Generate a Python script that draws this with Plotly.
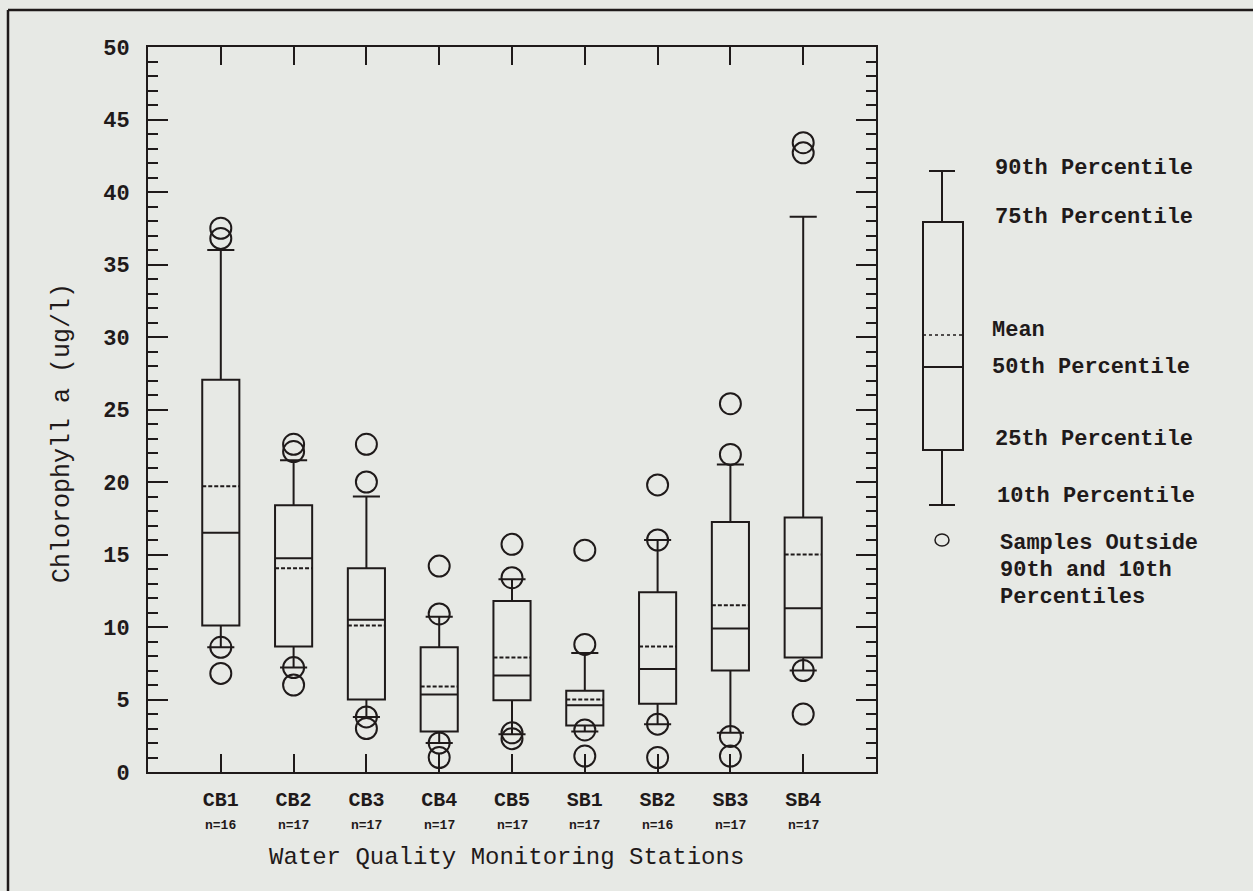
import plotly.graph_objects as go

# Chlorophyll a summary statistics per monitoring station (ug/l)
stations = ["CB1", "CB2", "CB3", "CB4", "CB5", "SB1", "SB2", "SB3", "SB4"]
sample_n = [16, 17, 17, 17, 17, 17, 16, 17, 17]
p10 = [8.6, 7.2, 3.8, 2.0, 2.6, 2.8, 3.3, 2.7, 7.0]
p25 = [10.1, 8.65, 5.0, 2.8, 4.95, 3.2, 4.7, 7.0, 7.9]
p50 = [16.5, 14.75, 10.5, 5.35, 6.65, 4.6, 7.1, 9.9, 11.3]
means = [19.7, 14.05, 10.1, 5.9, 7.9, 5.0, 8.65, 11.5, 15.0]
p75 = [27.05, 18.4, 14.05, 8.6, 11.8, 5.6, 12.4, 17.25, 17.55]
p90 = [36.0, 21.5, 19.0, 10.7, 13.3, 8.2, 16.0, 21.2, 38.3]

# Samples falling outside the 10th-90th percentile range
outlier_station = ["CB1", "CB1", "CB1", "CB1",
                   "CB2", "CB2", "CB2", "CB2",
                   "CB3", "CB3", "CB3", "CB3",
                   "CB4", "CB4", "CB4", "CB4",
                   "CB5", "CB5", "CB5", "CB5",
                   "SB1", "SB1", "SB1", "SB1",
                   "SB2", "SB2", "SB2", "SB2",
                   "SB3", "SB3", "SB3", "SB3",
                   "SB4", "SB4", "SB4", "SB4"]
outlier_value = [37.5, 36.8, 8.6, 6.8,
                 22.6, 22.1, 7.2, 6.0,
                 22.6, 20.0, 3.8, 3.0,
                 14.2, 10.9, 2.0, 1.0,
                 15.7, 13.4, 2.7, 2.3,
                 15.3, 8.8, 2.9, 1.1,
                 19.8, 16.0, 3.3, 1.0,
                 25.4, 21.9, 2.45, 1.1,
                 43.4, 42.7, 7.0, 4.0]

y_ticks = [0, 5, 10, 15, 20, 25, 30, 35, 40, 45, 50]

INK = "#1f1a1a"
BG = "#e7e9e5"
W, H = 1253, 891
ML, MR, MT, MB = 148, 377, 47, 119
PW, PH = W - ML - MR, H - MT - MB

MONO = "Liberation Mono, DejaVu Sans Mono, monospace"


def px(x):
    return (x - ML) / PW


def py(y):
    return (H - MB - y) / PH


fig = go.Figure()

fig.add_trace(go.Box(
    x=stations,
    q1=p25, median=p50, q3=p75,
    lowerfence=p10, upperfence=p90,
    mean=means,
    boxmean=True,
    boxpoints=False,
    width=0.51,
    whiskerwidth=0.73,
    fillcolor="rgba(0,0,0,0)",
    line=dict(color=INK, width=2),
    hoverinfo="skip",
    showlegend=False,
))

fig.add_trace(go.Scatter(
    x=outlier_station, y=outlier_value,
    mode="markers",
    marker=dict(symbol="circle-open", size=21, color=INK, line=dict(width=2, color=INK)),
    hoverinfo="skip",
    showlegend=False,
))

shapes = []
annotations = []

# Legend key: box-and-whisker glyph with labels
cx = 942
lk = dict(color=INK, width=2)
shapes.append(dict(type="rect", xref="paper", yref="paper",
                   x0=px(923), x1=px(963), y0=py(450), y1=py(222), line=lk))
shapes.append(dict(type="line", xref="paper", yref="paper",
                   x0=px(cx), x1=px(cx), y0=py(222), y1=py(171), line=lk))
shapes.append(dict(type="line", xref="paper", yref="paper",
                   x0=px(929), x1=px(955), y0=py(171), y1=py(171), line=lk))
shapes.append(dict(type="line", xref="paper", yref="paper",
                   x0=px(cx), x1=px(cx), y0=py(450), y1=py(505), line=lk))
shapes.append(dict(type="line", xref="paper", yref="paper",
                   x0=px(929), x1=px(955), y0=py(505), y1=py(505), line=lk))
shapes.append(dict(type="line", xref="paper", yref="paper",
                   x0=px(923), x1=px(963), y0=py(367), y1=py(367), line=lk))
shapes.append(dict(type="line", xref="paper", yref="paper",
                   x0=px(923), x1=px(963), y0=py(335), y1=py(335),
                   line=dict(color=INK, width=1.5, dash="dot")))
shapes.append(dict(type="circle", xref="paper", yref="paper",
                   x0=px(cx - 7), x1=px(cx + 7), y0=py(546), y1=py(534),
                   line=dict(color=INK, width=1.5)))

# Outer frame (top and left edges)
shapes.append(dict(type="line", xref="paper", yref="paper",
                   x0=px(8), x1=px(W), y0=py(10), y1=py(10),
                   line=dict(color=INK, width=2.5)))
shapes.append(dict(type="line", xref="paper", yref="paper",
                   x0=px(8), x1=px(8), y0=py(10), y1=py(H),
                   line=dict(color=INK, width=2.5)))

legend_labels = [
    ("90th Percentile", 993, 168),
    ("75th Percentile", 993, 217),
    ("Mean", 990, 330),
    ("50th Percentile", 990, 367),
    ("25th Percentile", 993, 439),
    ("10th Percentile", 995, 496),
    ("Samples Outside", 998, 543),
    ("90th and 10th", 998, 570),
    ("Percentiles", 998, 597),
]
for text, lx, ly in legend_labels:
    annotations.append(dict(text="<b>%s</b>" % text, xref="paper", yref="paper",
                            x=px(lx), y=py(ly), xanchor="left", yanchor="middle",
                            showarrow=False, font=dict(family=MONO, size=22, color=INK)))

# Sample counts beneath station names
for st, n in zip(stations, sample_n):
    annotations.append(dict(text="<b>n=%d</b>" % n, x=st, xref="x", yref="paper",
                            y=py(825), yanchor="middle", showarrow=False,
                            font=dict(family=MONO, size=13, color=INK)))

# Axis titles
annotations.append(dict(text="Chlorophyll a (ug/l)", xref="paper", yref="paper",
                        x=px(62), y=py(433), textangle=-90, showarrow=False,
                        xanchor="center", yanchor="middle",
                        font=dict(family=MONO, size=25, color=INK)))
annotations.append(dict(text="Water Quality Monitoring Stations", xref="paper", yref="paper",
                        x=px(506), y=py(857), showarrow=False,
                        xanchor="center", yanchor="middle",
                        font=dict(family=MONO, size=24, color=INK)))

fig.update_layout(
    width=W, height=H,
    margin=dict(l=ML, r=MR, t=MT, b=MB),
    paper_bgcolor=BG, plot_bgcolor=BG,
    shapes=shapes, annotations=annotations,
    showlegend=False,
)

fig.update_xaxes(
    type="category", categoryorder="array", categoryarray=stations,
    range=[-1, 9],
    showgrid=False, zeroline=False,
    showline=True, linecolor=INK, linewidth=2, mirror="ticks",
    ticks="inside", ticklen=18, tickwidth=2, tickcolor=INK,
    tickvals=stations, ticktext=["<b>%s</b>" % s for s in stations],
    tickfont=dict(family=MONO, size=20, color=INK),
    ticklabelstandoff=8,
)
fig.update_yaxes(
    range=[0, 50],
    showgrid=False, zeroline=False,
    showline=True, linecolor=INK, linewidth=2, mirror="ticks",
    ticks="inside", ticklen=20, tickwidth=2, tickcolor=INK,
    tickvals=y_ticks, ticktext=["<b>%d</b>" % v for v in y_ticks],
    tickfont=dict(family=MONO, size=22, color=INK),
    ticklabelstandoff=12,
    minor=dict(dtick=1, ticks="inside", ticklen=10, tickwidth=1.5, tickcolor=INK, showgrid=False),
)

fig.write_html("out.html")
